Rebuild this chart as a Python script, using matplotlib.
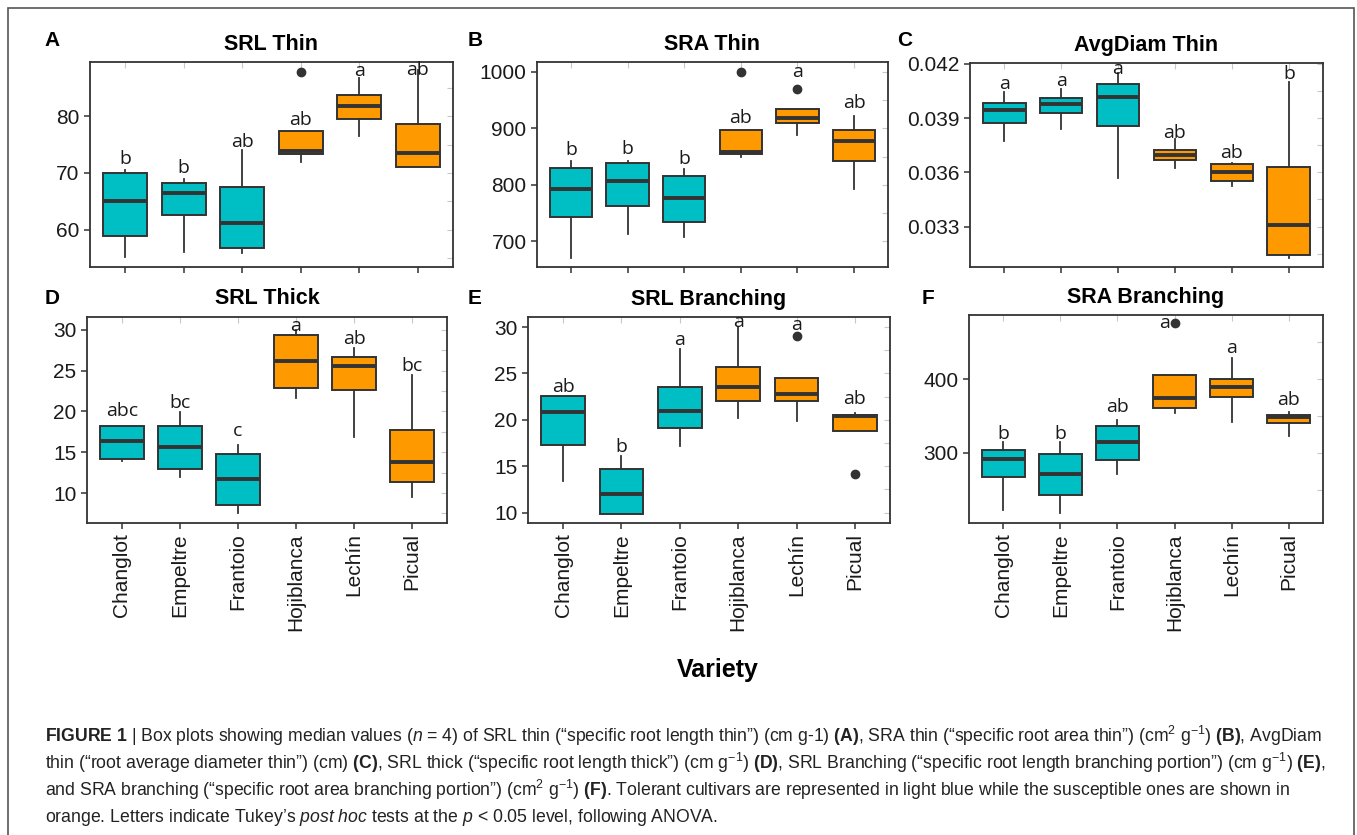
import matplotlib
matplotlib.use("Agg")
import matplotlib.pyplot as plt
from matplotlib import font_manager
from matplotlib.patches import Rectangle
from matplotlib.ticker import MultipleLocator, FormatStrFormatter

varieties = ["Changlot", "Empeltre", "Frantoio", "Hojiblanca", "Lechín", "Picual"]
box_colors = ["#00BFC4", "#00BFC4", "#00BFC4", "#FF9900", "#FF9900", "#FF9900"]

# A - SRL Thin
a_lo = [55.1, 56.1, 55.8, 71.9, 76.6, 71.1]
a_q1 = [58.9, 62.5, 56.8, 73.3, 79.6, 71.1]
a_med = [65.1, 66.5, 61.2, 73.9, 81.9, 73.6]
a_q3 = [70.0, 68.3, 67.5, 77.5, 83.8, 78.7]
a_hi = [70.6, 68.9, 74.0, 77.5, 86.8, 88.1]
a_out = [[], [], [], [87.8], [], []]
a_let = ["b", "b", "ab", "ab", "a", "ab"]
a_let_y = [72.4, 70.8, 75.5, 79.4, 88.0, 88.2]

# B - SRA Thin
b_lo = [671, 713, 708, 849, 889, 793]
b_q1 = [743, 763, 735, 854, 910, 843]
b_med = [793, 807, 777, 859, 918, 877]
b_q3 = [830, 838, 816, 897, 934, 898]
b_hi = [843, 843, 829, 897, 934, 922]
b_out = [[], [], [], [1000], [969], []]
b_let = ["b", "b", "b", "ab", "a", "ab"]
b_let_y = [861, 864, 845, 919, 1000, 945]

# C - AvgDiam Thin
c_lo = [0.03771, 0.03837, 0.03571, 0.03624, 0.03523, 0.03129]
c_q1 = [0.03872, 0.03926, 0.03854, 0.03666, 0.03552, 0.03142]
c_med = [0.03944, 0.03977, 0.04014, 0.03694, 0.03600, 0.03311]
c_q3 = [0.03985, 0.04012, 0.04088, 0.03725, 0.03646, 0.03629]
c_hi = [0.04044, 0.04062, 0.04148, 0.03782, 0.03652, 0.04099]
c_out = [[], [], [], [], [], []]
c_let = ["a", "a", "a", "ab", "ab", "b"]
c_let_y = [0.0409, 0.04104, 0.04172, 0.03817, 0.03707, 0.04145]

# D - SRL Thick
d_lo = [13.9, 12.0, 7.5, 21.6, 16.9, 9.5]
d_q1 = [14.2, 13.0, 8.5, 22.9, 22.6, 11.4]
d_med = [16.4, 15.6, 11.7, 26.2, 25.5, 13.8]
d_q3 = [18.2, 18.2, 14.8, 29.3, 26.6, 17.7]
d_hi = [18.2, 19.9, 15.9, 29.9, 27.7, 24.4]
d_out = [[], [], [], [], [], []]
d_let = ["abc", "bc", "c", "a", "ab", "bc"]
d_let_y = [20.0, 21.0, 17.6, 30.5, 28.8, 25.6]

# E - SRL Branching
e_lo = [13.4, 9.9, 17.2, 20.2, 19.9, 18.8]
e_q1 = [17.3, 9.9, 19.1, 22.0, 22.0, 18.8]
e_med = [20.8, 12.0, 21.0, 23.5, 22.8, 20.4]
e_q3 = [22.6, 14.7, 23.5, 25.7, 24.5, 20.5]
e_hi = [22.6, 16.1, 27.6, 30.0, 24.5, 20.7]
e_out = [[], [], [], [], [29.0], [14.2]]
e_let = ["ab", "b", "a", "a", "a", "ab"]
e_let_y = [23.5, 17.1, 28.6, 30.5, 30.2, 22.2]

# F - SRA Branching
f_lo = [222, 219, 272, 354, 342, 323]
f_q1 = [268, 243, 291, 361, 376, 340]
f_med = [292, 272, 315, 374, 389, 348]
f_q3 = [304, 298, 336, 406, 400, 352]
f_hi = [315, 315, 345, 406, 429, 356]
f_out = [[], [], [], [476], [], []]
f_let = ["b", "b", "ab", "a", "a", "ab"]
f_let_y = [326, 326, 362, 476, 442, 372]


def have(name):
    try:
        font_manager.findfont(name, fallback_to_default=False)
        return True
    except Exception:
        return False


cap_font = "Liberation Sans Narrow" if have("Liberation Sans Narrow") else "Liberation Sans"
cap_size = 14.5 if cap_font == "Liberation Sans Narrow" else 12.7
plt.rcParams["font.family"] = ["Liberation Sans", "DejaVu Sans"]
plt.rcParams["mathtext.fontset"] = "custom"
plt.rcParams["mathtext.rm"] = cap_font
plt.rcParams["mathtext.it"] = cap_font + ":italic"
plt.rcParams["mathtext.bf"] = cap_font + ":bold"

W, H = 1357, 835
fig = plt.figure(figsize=(W / 100, H / 100), dpi=100)
DARK = "#333333"


def px_axes(l, t, r, b):
    return fig.add_axes([l / W, 1 - b / H, (r - l) / W, (b - t) / H])


def panel(ax, title, lo, q1, med, q3, hi, out, let, let_y, ylim, step, fmt, xlabels):
    stats = []
    for i in range(len(varieties)):
        stats.append(dict(whislo=lo[i], q1=q1[i], med=med[i], q3=q3[i],
                          whishi=hi[i], fliers=out[i]))
    pos = list(range(1, len(varieties) + 1))
    bp = ax.bxp(stats, positions=pos, widths=0.75, patch_artist=True,
                showcaps=False,
                boxprops=dict(edgecolor=DARK, linewidth=1.4),
                whiskerprops=dict(color=DARK, linewidth=1.3),
                medianprops=dict(color=DARK, linewidth=2.8),
                flierprops=dict(marker="o", markerfacecolor=DARK,
                                markeredgecolor=DARK, markersize=6))
    for patch, col in zip(bp["boxes"], box_colors):
        patch.set_facecolor(col)
    for p, s, y, o in zip(pos, let, let_y, out):
        # a letter sitting on an outlier is nudged to its left
        clash = any(abs(v - y) < 0.03 * (ylim[1] - ylim[0]) for v in o)
        ax.text(p - 0.18 if clash else p, y, s, ha="center", va="center", fontsize=14,
                family=["Open Sans", "DejaVu Sans"], color="#1a1a1a")
    ax.set_xlim(0.4, 6.6)
    ax.set_ylim(*ylim)
    ax.yaxis.set_major_locator(MultipleLocator(step))
    if fmt:
        ax.yaxis.set_major_formatter(FormatStrFormatter(fmt))
    ax.set_xticks(pos)
    if xlabels:
        ax.set_xticklabels(varieties, rotation=90, fontsize=15, color="#1a1a1a")
    else:
        ax.set_xticklabels([])
    ax.tick_params(axis="y", labelsize=15, labelcolor="#1a1a1a")
    ax.tick_params(length=4, width=1.1, color=DARK, direction="out")
    for sp in ax.spines.values():
        sp.set_color(DARK)
        sp.set_linewidth(1.3)
    ax.set_title(title, fontsize=15.5, fontweight="bold", pad=9)
    # faint inner grid stubs on the top and right frame
    top = ax.secondary_xaxis("top")
    top.set_xticks(pos)
    top.tick_params(direction="in", length=4, color="#c8c8c8", labeltop=False)
    right = ax.secondary_yaxis("right")
    right.yaxis.set_major_locator(MultipleLocator(step / 2))
    right.tick_params(direction="in", length=4, color="#c8c8c8", labelright=False)
    for s in (top, right):
        for sp in s.spines.values():
            sp.set_visible(False)


ax_a = px_axes(90, 62, 453, 267)
panel(ax_a, "SRL Thin", a_lo, a_q1, a_med, a_q3, a_hi, a_out, a_let, a_let_y,
      (53.4, 89.6), 10, None, False)
ax_b = px_axes(537, 62, 888, 267)
panel(ax_b, "SRA Thin", b_lo, b_q1, b_med, b_q3, b_hi, b_out, b_let, b_let_y,
      (654.5, 1017.7), 100, None, False)
ax_c = px_axes(970, 63, 1323, 267)
panel(ax_c, "AvgDiam Thin", c_lo, c_q1, c_med, c_q3, c_hi, c_out, c_let, c_let_y,
      (0.03077, 0.04204), 0.003, "%.3f", False)
ax_d = px_axes(87, 317, 447, 523)
panel(ax_d, "SRL Thick", d_lo, d_q1, d_med, d_q3, d_hi, d_out, d_let, d_let_y,
      (6.33, 31.55), 5, None, True)
ax_e = px_axes(528, 317, 890, 523)
panel(ax_e, "SRL Branching", e_lo, e_q1, e_med, e_q3, e_hi, e_out, e_let, e_let_y,
      (8.89, 31.08), 5, None, True)
ax_f = px_axes(969, 315, 1323, 523)
panel(ax_f, "SRA Branching", f_lo, f_q1, f_med, f_q3, f_hi, f_out, f_let, f_let_y,
      (205, 486.9), 100, None, True)

for tag, x, y in [("A", 52, 40), ("B", 475, 40), ("C", 905, 40),
                  ("D", 52, 298), ("E", 475, 298), ("F", 928, 298)]:
    fig.text(x / W, 1 - y / H, tag, fontsize=15, fontweight="bold", ha="center", va="center")

fig.text(718 / W, 1 - 670 / H, "Variety", fontsize=18, fontweight="bold", ha="center", va="center")

caption = [
    r"$\mathbf{FIGURE\ 1}$ | Box plots showing median values ($\mathit{n}$ = 4) of SRL thin (“specific root length thin”) (cm g-1) $\mathbf{(A)}$, SRA thin (“specific root area thin”) (cm$^{2}$ g$^{-1}$) $\mathbf{(B)}$, AvgDiam",
    r"thin (“root average diameter thin”) (cm) $\mathbf{(C)}$, SRL thick (“specific root length thick”) (cm g$^{-1}$) $\mathbf{(D)}$, SRL Branching (“specific root length branching portion”) (cm g$^{-1}$) $\mathbf{(E)}$,",
    r"and SRA branching (“specific root area branching portion”) (cm$^{2}$ g$^{-1}$) $\mathbf{(F)}$. Tolerant cultivars are represented in light blue while the susceptible ones are shown in",
    r"orange. Letters indicate Tukey’s $\mathit{post\ hoc}$ tests at the $\mathit{p}$ < 0.05 level, following ANOVA.",
]
for i, line in enumerate(caption):
    fig.text(45 / W, 1 - (736 + 27 * i) / H, line, fontsize=cap_size, family=cap_font,
             color="#222222", ha="left", va="center")

fig.patches.append(Rectangle((8 / W, -0.01), (1354 - 8) / W, 1 - 8 / H + 0.01,
                             transform=fig.transFigure, fill=False,
                             edgecolor="#555555", linewidth=1.2))

fig.savefig("out.png", dpi=100)
